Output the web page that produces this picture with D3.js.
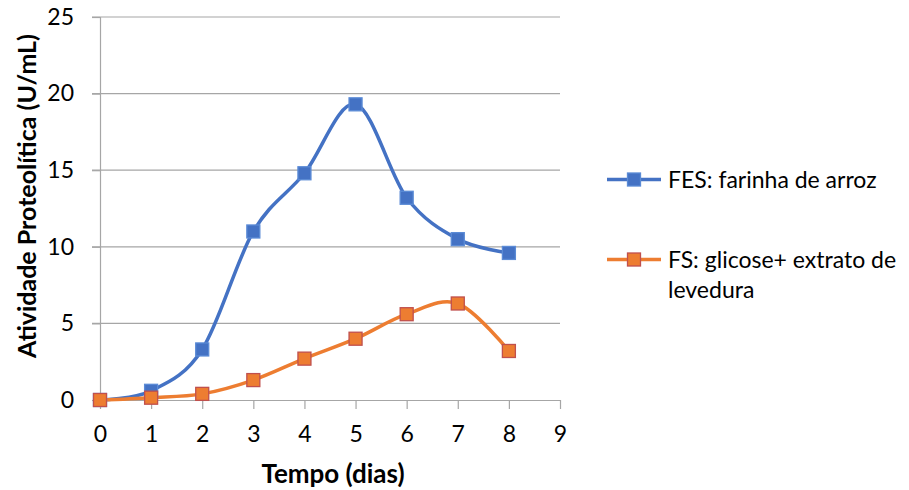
<!DOCTYPE html>
<html>
  <script src="https://d3js.org/d3.v7.js"></script>
  <style>
    body { margin: 0; background: #fff; }
    text { font-family: Lato, "Open Sans", sans-serif; fill: #000; }
  </style>
  <body>
    <svg id="chart" width="909" height="490"></svg>
    <script>
      // data
      const dias = [0, 1, 2, 3, 4, 5, 6, 7, 8];
      const fes = [0, 0.6, 3.3, 11.0, 14.8, 19.3, 13.2, 10.5, 9.6];
      const fs = [0, 0.15, 0.4, 1.3, 2.7, 4.0, 5.6, 6.3, 3.2];
      const xTicks = [0, 1, 2, 3, 4, 5, 6, 7, 8, 9];
      const yTicks = [0, 5, 10, 15, 20, 25];

      const svg = d3.select("#chart");

      const plotLeft = 100, plotRight = 560, plotTop = 17, plotBottom = 400;
      const x = d3.scaleLinear().domain([0, 9]).range([plotLeft, plotRight]);
      const y = d3.scaleLinear().domain([0, 25]).range([plotBottom, plotTop]);

      // gridlines
      svg.append("g")
        .selectAll("line")
        .data(yTicks.filter(d => d > 0))
        .enter()
        .append("line")
        .attr("x1", plotLeft - 8)
        .attr("x2", plotRight)
        .attr("y1", d => y(d))
        .attr("y2", d => y(d))
        .attr("stroke", "#a6a6a6")
        .attr("stroke-width", 1.2);

      // Y axis
      const yAxis = svg.append("g")
        .attr("transform", "translate(" + plotLeft + ",0)")
        .call(d3.axisLeft(y).tickValues(yTicks).tickSize(8).tickPadding(18));
      yAxis.select(".domain").attr("stroke", "#a6a6a6").attr("stroke-width", 1.2);
      yAxis.selectAll(".tick line").attr("stroke", "#a6a6a6").attr("stroke-width", 1.2);
      yAxis.selectAll("text").style("font-size", "23px").attr("fill", "#000");

      // X axis
      const xAxis = svg.append("g")
        .attr("transform", "translate(0," + plotBottom + ")")
        .call(d3.axisBottom(x).tickValues(xTicks).tickSize(9).tickPadding(17)
          .tickSizeOuter(0));
      xAxis.select(".domain").attr("stroke", "#a6a6a6").attr("stroke-width", 1.2);
      xAxis.selectAll(".tick line").attr("stroke", "#a6a6a6").attr("stroke-width", 1.2);
      xAxis.selectAll("text").style("font-size", "23px").attr("fill", "#000");

      // axis titles
      svg.append("text")
        .attr("x", 333)
        .attr("y", 483)
        .attr("text-anchor", "middle")
        .style("font-size", "26px")
        .style("font-weight", "bold")
        .text("Tempo (dias)");

      svg.append("text")
        .attr("transform", "translate(36,196) rotate(-90)")
        .attr("text-anchor", "middle")
        .style("font-size", "25px")
        .style("font-weight", "bold")
        .text("Atividade Proteolítica (U/mL)");

      const series = [
        { name: "FES", values: fes, line: "#4472c4", fill: "#4472c4", stroke: "#5b8bd6" },
        { name: "FS", values: fs, line: "#ed7d31", fill: "#ed7d31", stroke: "#c0504d" }
      ];

      const line = d3.line()
        .x((d, i) => x(dias[i]))
        .y(d => y(d))
        .curve(d3.curveCardinal.tension(0));

      series.forEach(function (s) {
        svg.append("path")
          .datum(s.values)
          .attr("d", line)
          .attr("fill", "none")
          .attr("stroke", s.line)
          .attr("stroke-width", 3.5);
      });

      const ms = 13;
      series.forEach(function (s) {
        svg.append("g")
          .selectAll("rect")
          .data(s.values)
          .enter()
          .append("rect")
          .attr("x", (d, i) => x(dias[i]) - ms / 2)
          .attr("y", d => y(d) - ms / 2)
          .attr("width", ms)
          .attr("height", ms)
          .attr("fill", s.fill)
          .attr("stroke", s.stroke)
          .attr("stroke-width", 1.3);
      });

      // legend
      const legend = [
        { s: series[0], ly: 179.5, lines: ["FES: farinha de arroz"] },
        { s: series[1], ly: 259.5, lines: ["FS: glicose+ extrato de", "levedura"] }
      ];
      legend.forEach(function (l) {
        const g = svg.append("g");
        g.append("line")
          .attr("x1", 607).attr("x2", 661)
          .attr("y1", l.ly).attr("y2", l.ly)
          .attr("stroke", l.s.line)
          .attr("stroke-width", 3.5);
        g.append("rect")
          .attr("x", 634 - ms / 2).attr("y", l.ly - ms / 2)
          .attr("width", ms).attr("height", ms)
          .attr("fill", l.s.fill)
          .attr("stroke", l.s.stroke)
          .attr("stroke-width", 1.3);
        l.lines.forEach(function (t, i) {
          g.append("text")
            .attr("x", 668)
            .attr("y", l.ly + 8 + i * 30)
            .style("font-size", "23px")
            .text(t);
        });
      });
    </script>
  </body>
</html>
